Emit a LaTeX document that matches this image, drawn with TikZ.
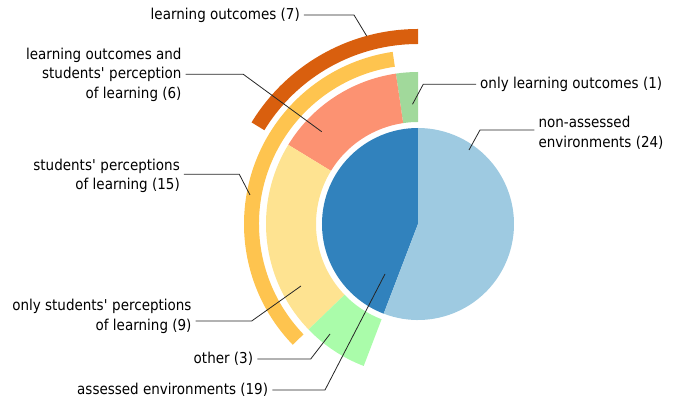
\documentclass[tikz,border=0pt]{standalone}
\usepackage{fontspec}
\setmainfont{DejaVu Sans}[FakeStretch=0.9]
\usepackage{tikz}

\definecolor{assessedc}{HTML}{3182BD}
\definecolor{nonassessedc}{HTML}{9ECAE1}
\definecolor{onlyloc}{HTML}{A1D99B}
\definecolor{losp}{HTML}{FC9272}
\definecolor{onlyspc}{HTML}{FEE391}
\definecolor{otherc}{HTML}{AAFCAA}
\definecolor{spc}{HTML}{FEC44F}
\definecolor{loc}{HTML}{D95F0E}

% colour, start angle, end angle, inner radius, outer radius
\newcommand{\ringpart}[5]{%
  \fill[#1] (#2:#4) arc[start angle=#2, end angle=#3, radius=#4]
    -- (#3:#5) arc[start angle=#3, end angle=#2, radius=#5] -- cycle;}

\begin{document}
\begin{tikzpicture}[x=1pt, y=1pt,
   lbl/.style={inner sep=4pt, font=\fontsize{15}{19.7}\selectfont},
   leader/.style={draw=black!85, line width=0.8pt}]

\useasboundingbox (-418,-179) rectangle (264,224);

\fill[assessedc] (0,0) -- (90:96) arc[start angle=90, end angle=249.07, radius=96] -- cycle;
\fill[nonassessedc] (0,0) -- (-110.93:96) arc[start angle=-110.93, end angle=90, radius=96] -- cycle;

\ringpart{onlyloc}{90}{98.37}{102}{152}
\ringpart{losp}{98.37}{148.6}{102}{152}
\ringpart{onlyspc}{148.6}{223.95}{102}{152}
\ringpart{otherc}{223.95}{249.07}{102}{152}

\ringpart{spc}{98.37}{223.95}{159}{174}
\ringpart{loc}{90}{148.6}{180}{195}

\coordinate (lotip) at (-51.3,188);     \coordinate (loelb) at (-64,209);
\coordinate (lsptip) at (-96.3,92.3);   \coordinate (lspelb) at (-174.7,149.7);
\coordinate (oltip) at (-5.5,119.7);    \coordinate (olelb) at (5.3,139.8);
\coordinate (natip) at (51,74);         \coordinate (naelb) at (62,94);
\coordinate (sptip) at (-168,29);       \coordinate (spelb) at (-178.7,49.7);
\coordinate (ostip) at (-117,-62);      \coordinate (oselb) at (-166.3,-97);
\coordinate (ottip) at (-88,-110);      \coordinate (otelb) at (-107.3,-135);
\coordinate (astip) at (-33,-50);       \coordinate (aselb) at (-93,-166);

\node[lbl, anchor=east] (lo) at (-114,209) {learning outcomes (7)};
\node[lbl, anchor=east, align=right] (lsp) at (-232.3,149.3)
   {learning outcomes and\\students\textquotesingle{} perception\\of learning (6)};
\node[lbl, anchor=west] (ol) at (58,140) {only learning outcomes (1)};
\node[lbl, anchor=west, align=left] (na) at (116.3,91.5)
   {non-assessed\\environments (24)};
\node[lbl, anchor=east, align=right] (sp) at (-234,48)
   {students\textquotesingle{} perceptions\\of learning (15)};
\node[lbl, anchor=east, align=right] (os) at (-222.3,-92.7)
   {only students\textquotesingle{} perceptions\\of learning (9)};
\node[lbl, anchor=east] (ot) at (-160.7,-135) {other (3)};
\node[lbl, anchor=east] (as) at (-145.7,-166) {assessed environments (19)};

\draw[leader] (lotip) -- (loelb) -- (loelb -| lo.east);
\draw[leader] (lsptip) -- (lspelb) -- (lspelb -| lsp.east);
\draw[leader] (oltip) -- (olelb) -- (olelb -| ol.west);
\draw[leader] (natip) -- (naelb) -- (naelb -| na.west);
\draw[leader] (sptip) -- (spelb) -- (spelb -| sp.east);
\draw[leader] (ostip) -- (oselb) -- (oselb -| os.east);
\draw[leader] (ottip) -- (otelb) -- (otelb -| ot.east);
\draw[leader] (astip) -- (aselb) -- (aselb -| as.east);

\end{tikzpicture}
\end{document}
